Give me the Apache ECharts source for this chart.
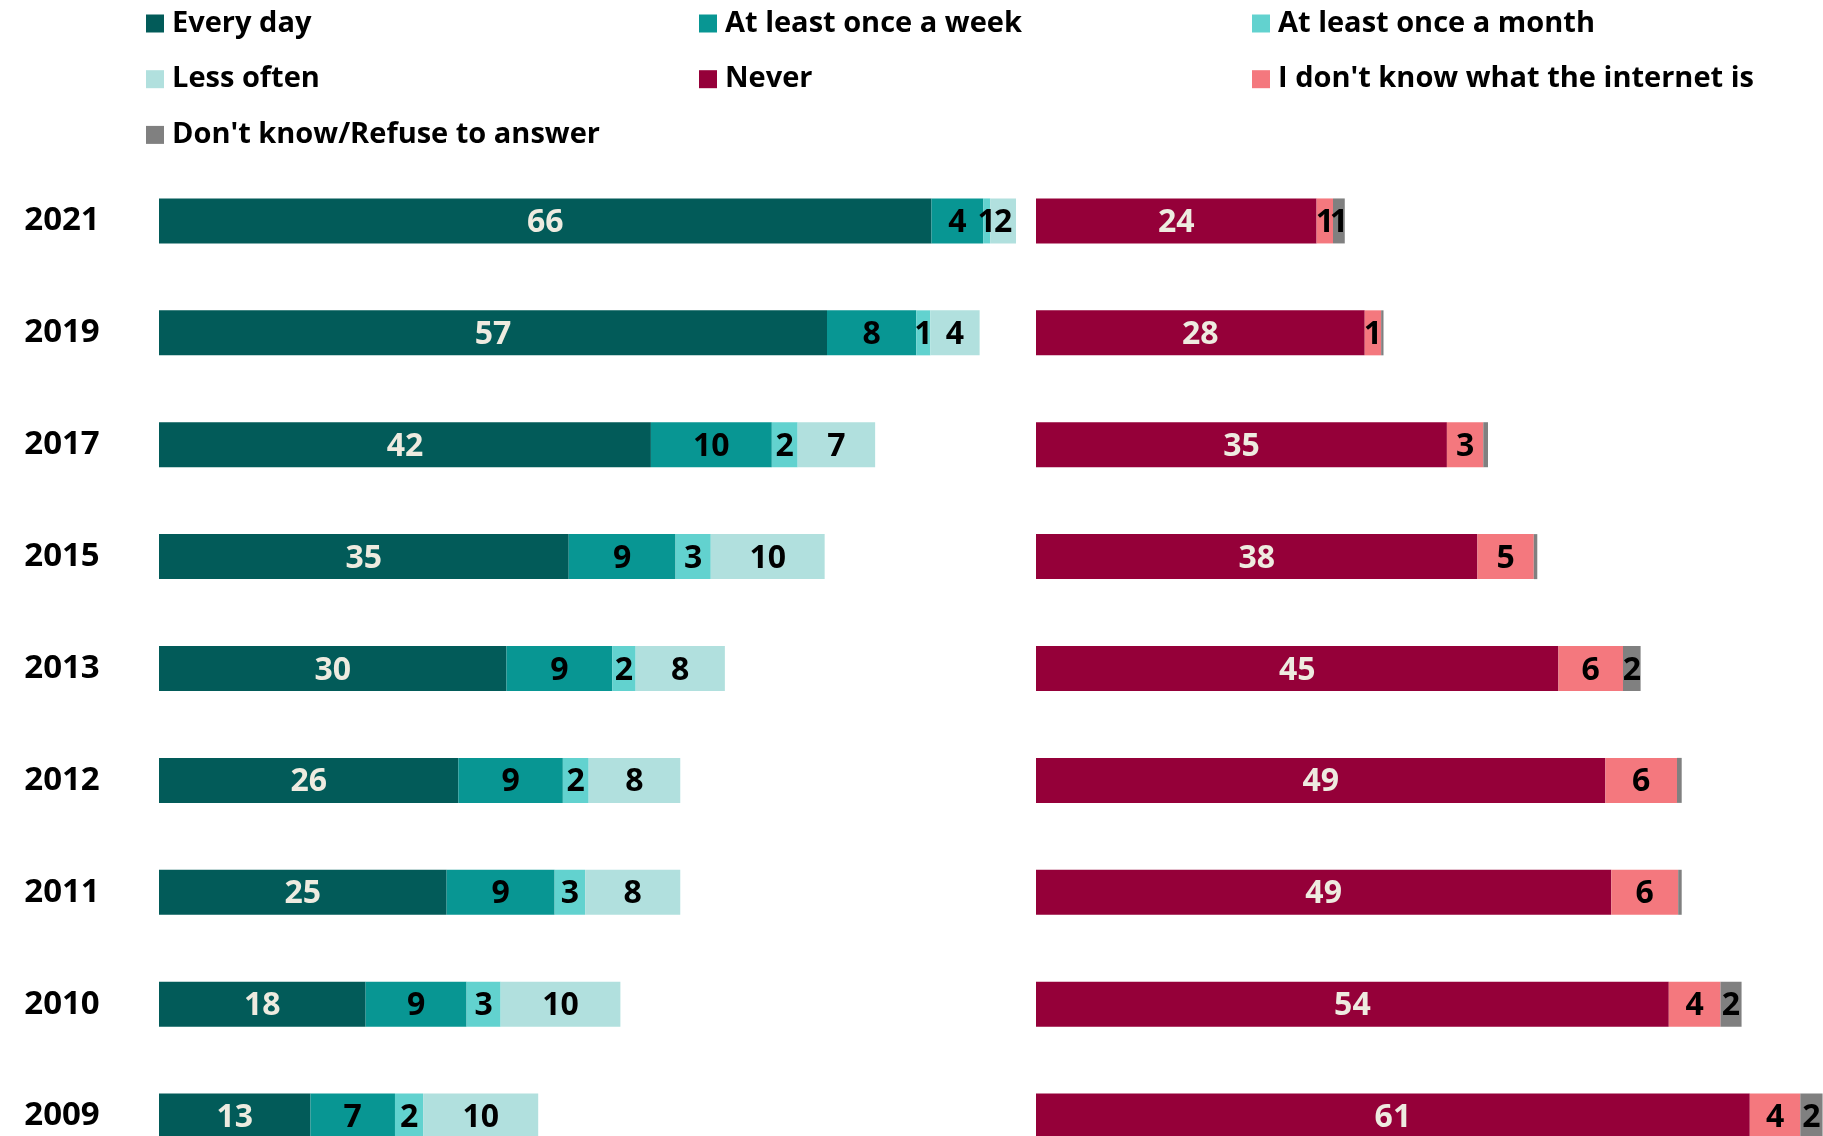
<!DOCTYPE html>
<html>
<head>
<meta charset="utf-8">
<script src="https://cdn.jsdelivr.net/npm/echarts@6/dist/echarts.min.js"></script>
<style>
html,body{margin:0;padding:0;background:#fff;overflow:hidden;}
#chart{width:1823px;height:1200px;}
</style>
</head>
<body>
<div id="chart"></div>
<script>
const years = ['2021','2019','2017','2015','2013','2012','2011','2010','2009'];
const everyDay   = [65.8, 56.9, 41.9, 34.9, 29.6, 25.5, 24.5, 17.6, 12.9];
const onceWeek   = [4.4, 7.6, 10.3, 9.1, 9.0, 8.9, 9.2, 8.6, 7.2];
const onceMonth  = [0.6, 1.2, 2.2, 3.0, 2.0, 2.2, 2.6, 2.9, 2.4];
const lessOften  = [2.2, 4.2, 6.6, 9.7, 7.6, 7.8, 8.1, 10.2, 9.8];
const never      = [23.9, 28.0, 35.0, 37.6, 44.5, 48.5, 49.0, 53.9, 60.8];
const dkInternet = [1.4, 1.4, 3.1, 4.8, 5.5, 6.1, 5.7, 4.4, 4.3];
const dkRefuse   = [1.0, 0.2, 0.4, 0.3, 1.5, 0.4, 0.3, 1.8, 2.3];

const names = ['Every day','At least once a week','At least once a month','Less often','Never',"I don't know what the internet is",'Don\'t know/Refuse to answer'];
const colors = ['#025b59','#089693','#62d2cf','#b1e0de','#950039','#f4787e','#808080'];

const FONT = '"Open Sans", "Noto Sans", sans-serif';
const UNIT = 11.74;

function mkSeries(name, data, color, side, labelColor){
  return {
    name: name, type: 'bar', stack: side === 0 ? 'L' : 'R',
    xAxisIndex: side, yAxisIndex: side,
    data: data, barWidth: 45,
    itemStyle: {color: color},
    label: {
      show: true, position: 'inside', color: labelColor, offset: [0, 2],
      fontFamily: FONT, fontWeight: 'bold', fontSize: 32,
      formatter: p => p.value >= 0.5 ? String(Math.round(p.value)) : ''
    },
    emphasis: {disabled: true}
  };
}

const legendText = {fontFamily: FONT, fontWeight: 'bold', fontSize: 29, color: '#000', lineHeight: 30, padding:[0,0,0,3]};
function mkLegend(left, items){
  return {orient:'vertical', left:left, top:8.5, padding:0, itemWidth:18, itemHeight:18, itemGap:25.7,
    icon:'rect', data: items, textStyle: legendText, selectedMode:false};
}

const chart = echarts.init(document.getElementById('chart'));
chart.setOption({
  animation: false,
  color: colors,
  legend: [
    mkLegend(146, [names[0], names[3], names[6]]),
    mkLegend(699, [names[1], names[4]]),
    mkLegend(1252, [names[2], names[5]])
  ],
  grid: [
    {left:159, top:165, width: 74*UNIT, height:1007},
    {left:1036, top:165, width: 67*UNIT, height:1007}
  ],
  xAxis: [
    {gridIndex:0, type:'value', min:0, max:74, show:false},
    {gridIndex:1, type:'value', min:0, max:67, show:false}
  ],
  yAxis: [
    {gridIndex:0, type:'category', data:years, inverse:true,
     axisLine:{show:false}, axisTick:{show:false}, splitLine:{show:false},
     axisLabel:{align:'center', margin:97, padding:[4,0,0,0], fontFamily:FONT, fontWeight:'bold', fontSize:33, color:'#000'}},
    {gridIndex:1, type:'category', data:years, inverse:true, show:false}
  ],
  series: [
    mkSeries(names[0], everyDay, colors[0], 0, '#eeebe0'),
    mkSeries(names[1], onceWeek, colors[1], 0, '#000'),
    mkSeries(names[2], onceMonth, colors[2], 0, '#000'),
    mkSeries(names[3], lessOften, colors[3], 0, '#000'),
    mkSeries(names[4], never, colors[4], 1, '#eeebe0'),
    mkSeries(names[5], dkInternet, colors[5], 1, '#000'),
    mkSeries(names[6], dkRefuse, colors[6], 1, '#000')
  ]
});
</script>
</body>
</html>
